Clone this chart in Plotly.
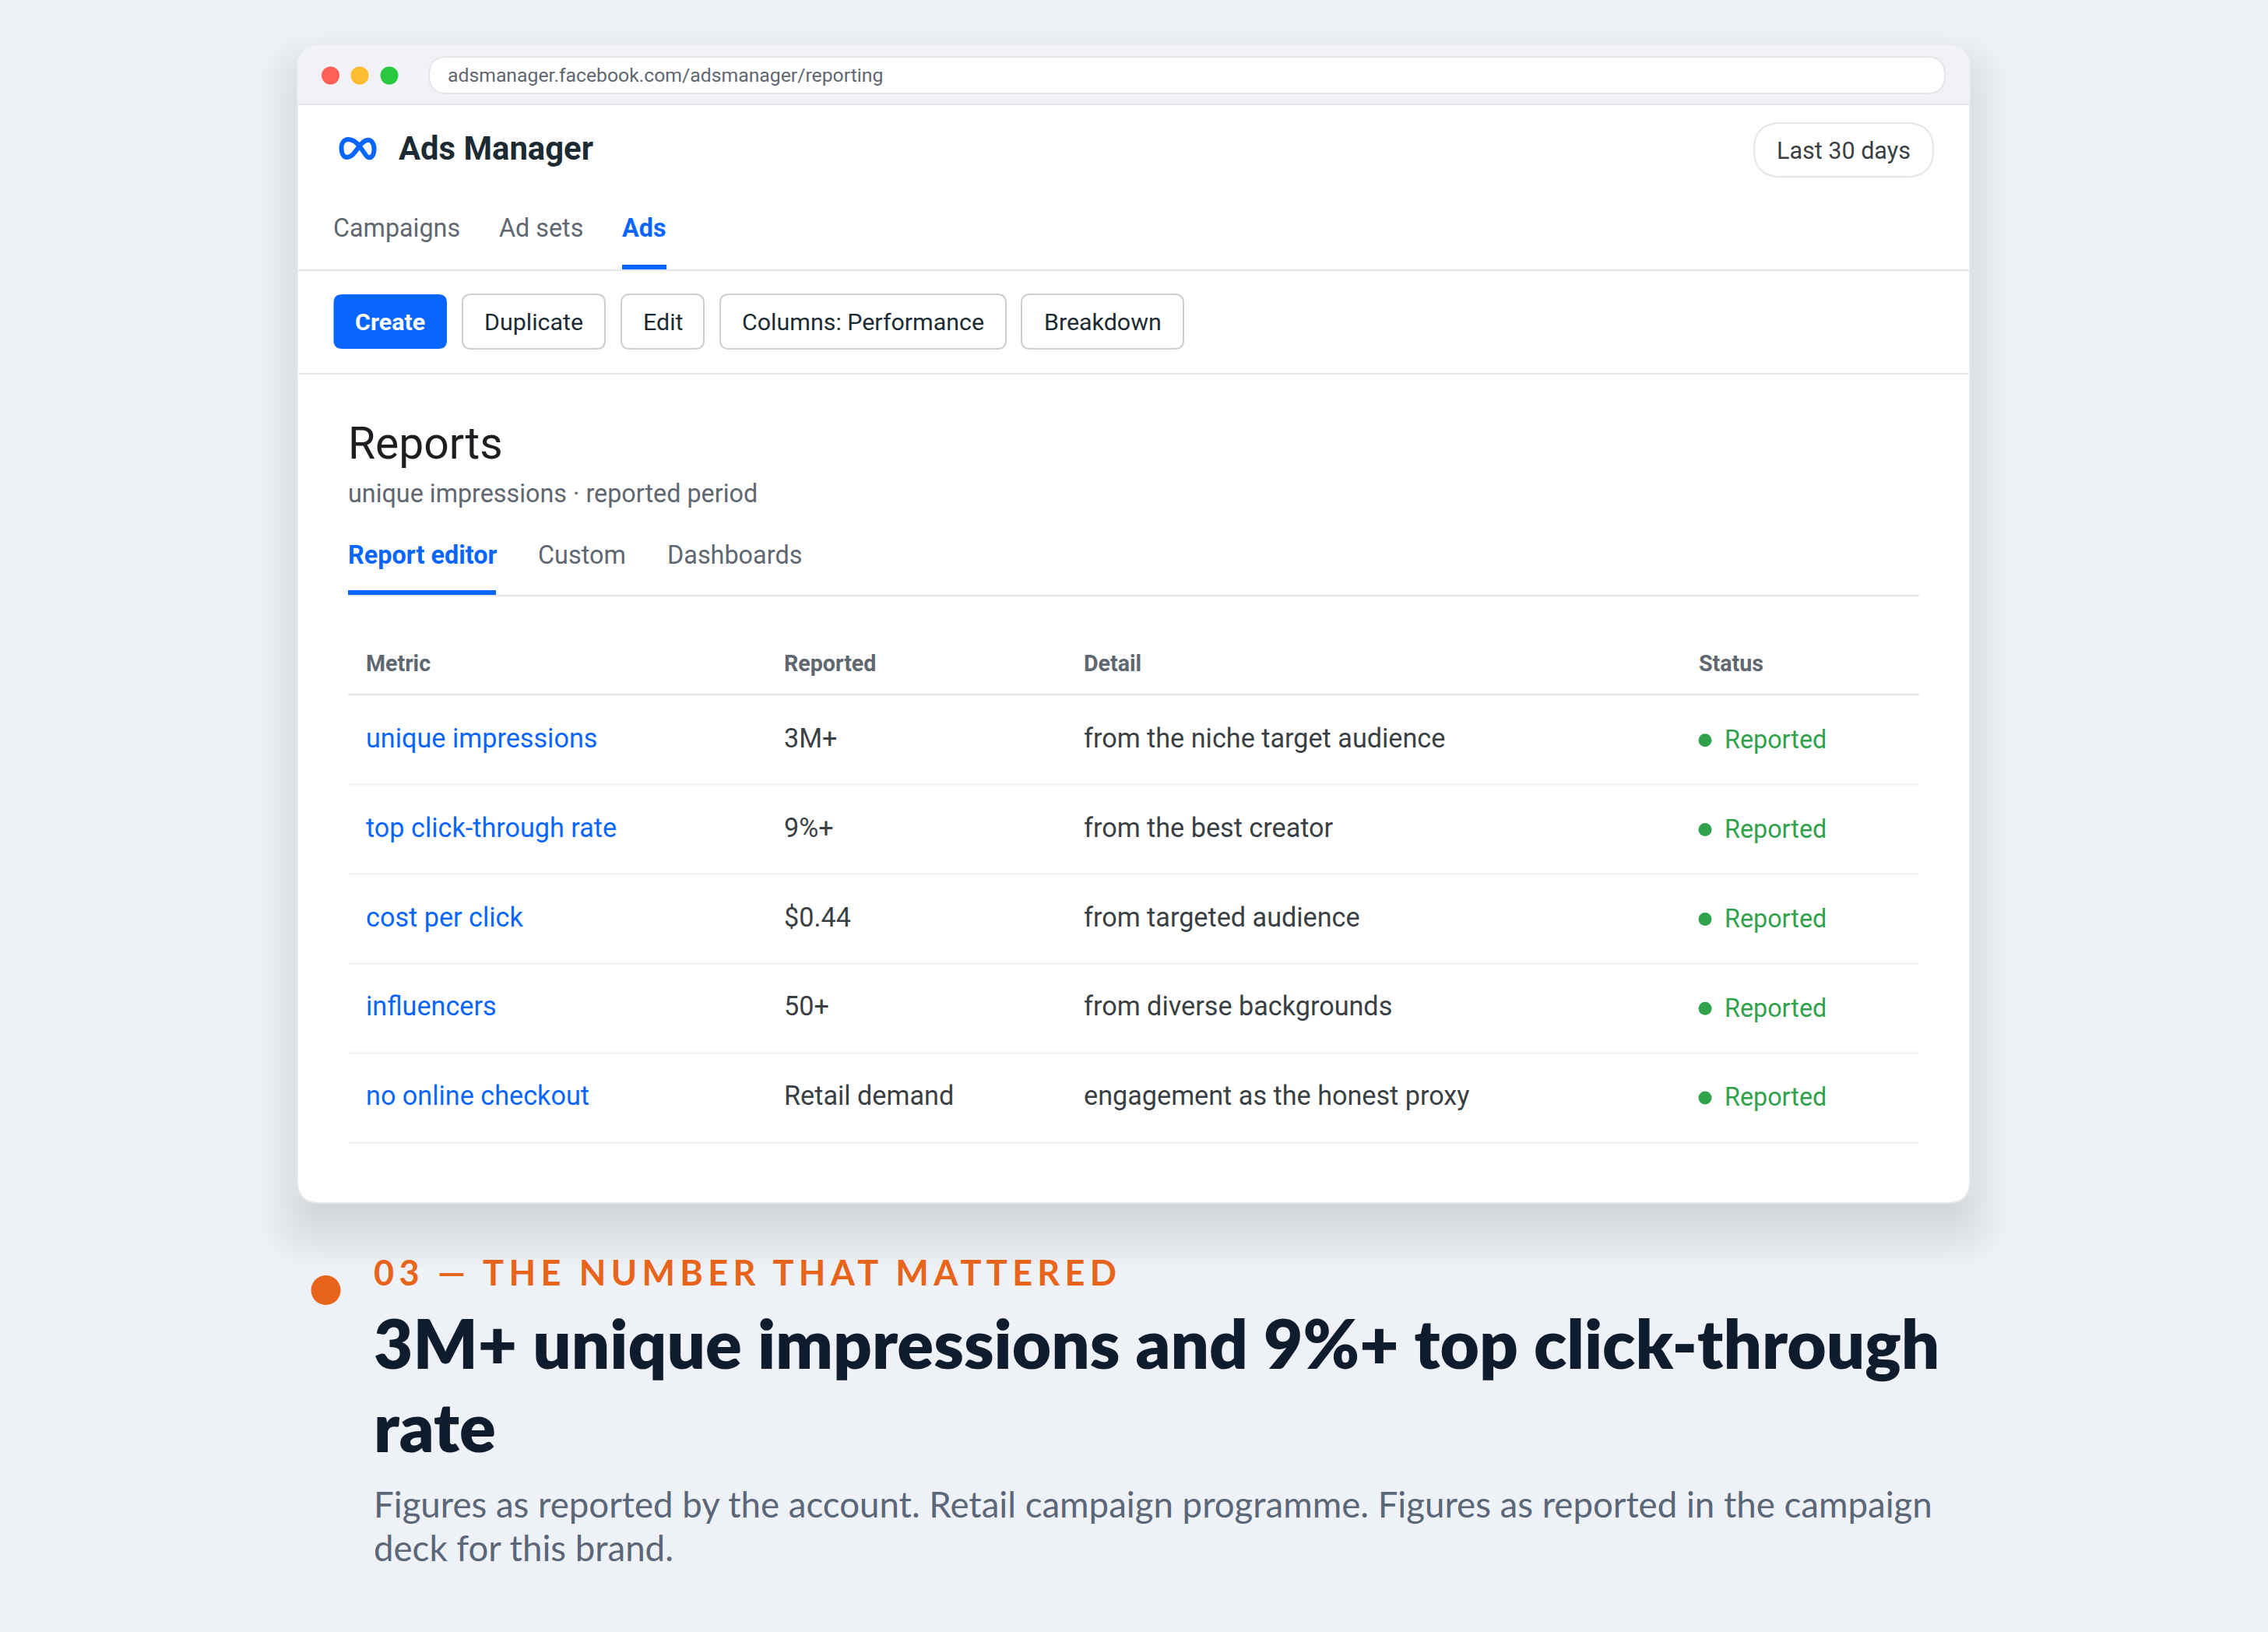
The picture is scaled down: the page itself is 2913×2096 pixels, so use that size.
import math
import plotly.graph_objects as go

W, H = 2913, 2096

# -------------------------------
# Content
# -------------------------------
url = "adsmanager.facebook.com/adsmanager/reporting"
nav_tabs = ["Campaigns", "Ad sets", "Ads"]
buttons = ["Create", "Duplicate", "Edit", "Columns: Performance", "Breakdown"]
report_tabs = ["Report editor", "Custom", "Dashboards"]
columns = ["Metric", "Reported", "Detail", "Status"]
metrics = ["unique impressions", "top click-through rate", "cost per click", "influencers", "no online checkout"]
reported = ["3M+", "9%+", "$0.44", "50+", "Retail demand"]
details = [
    "from the niche target audience",
    "from the best creator",
    "from targeted audience",
    "from diverse backgrounds",
    "engagement as the honest proxy",
]
statuses = ["Reported"] * 5
headline = ["3M+ unique impressions and 9%+ top click-through", "rate"]
body = [
    "Figures as reported by the account. Retail campaign programme. Figures as reported in the campaign",
    "deck for this brand.",
]

BLUE = "#0866ff"
GREY = "#606770"
LINE = "#e4e6eb"
ORANGE = "#e8641b"

shapes = []
annotations = []


def rrect(x0, y0, x1, y1, r, top_only=False):
    if top_only:
        return f"M{x0},{y1} L{x0},{y0+r} Q{x0},{y0} {x0+r},{y0} L{x1-r},{y0} Q{x1},{y0} {x1},{y0+r} L{x1},{y1} Z"
    return (
        f"M{x0+r},{y0} L{x1-r},{y0} Q{x1},{y0} {x1},{y0+r} L{x1},{y1-r} Q{x1},{y1} {x1-r},{y1} "
        f"L{x0+r},{y1} Q{x0},{y1} {x0},{y1-r} L{x0},{y0+r} Q{x0},{y0} {x0+r},{y0} Z"
    )


def box(x0, y0, x1, y1, r, fill, border=None, bw=2, top_only=False, opacity=1):
    shapes.append(dict(
        type="path", path=rrect(x0, y0, x1, y1, r, top_only), fillcolor=fill, opacity=opacity, layer="below",
        line=dict(color=border or fill, width=bw if border else 0),
    ))


def hline(y, x0, x1, color=LINE, w=2):
    shapes.append(dict(type="line", x0=x0, x1=x1, y0=y, y1=y, layer="below", line=dict(color=color, width=w)))


def fill_rect(x0, x1, y0, y1, color):
    shapes.append(dict(type="rect", x0=x0, x1=x1, y0=y0, y1=y1, fillcolor=color, layer="below", line=dict(width=0)))


def txt(x, base, text, size, color, weight=400, family="Roboto", anchor="left"):
    # y is the baseline, converted to the centre of the text box
    annotations.append(dict(
        x=x, y=base - 0.32 * size, text=text, showarrow=False, xanchor=anchor, yanchor="middle", align="left",
        xref="x", yref="y", borderpad=0, font=dict(family=family, size=size, color=color, weight=weight),
    ))


# -------------------------------
# Window and its soft shadow
# -------------------------------
WX0, WY0, WX1, WY1 = 382, 58, 2530, 1545
SHADOW_DY, SIGMA, SHADOW_A = 34, 40, 0.17
prev = 0.0
for d in range(100, -92, -3):
    target = SHADOW_A * 0.5 * (1 - math.erf(d / (SIGMA * math.sqrt(2))))
    step = 1 - (1 - target) / (1 - prev)
    prev = target
    box(WX0 - d, WY0 - d + SHADOW_DY, WX1 + d, WY1 + d + SHADOW_DY, max(28 + d, 4), "rgb(15,23,42)", opacity=step)

box(WX0, WY0, WX1, WY1, 28, "#ffffff", "#e6e8ee", 2)
box(WX0, WY0, WX1, 134, 28, "#f0f2f5", top_only=True)
hline(134, WX0, WX1)
for cx, col in zip([424.5, 462, 500], ["#ff5f57", "#febc2e", "#28c840"]):
    shapes.append(dict(type="circle", x0=cx - 11.5, x1=cx + 11.5, y0=85.5, y1=108.5, fillcolor=col, layer="below", line=dict(width=0)))
box(551, 73, 2498, 120, 23, "#ffffff", LINE, 2)
txt(573.5, 104, url, 24.75, GREY)

# logo
shapes.append(dict(
    type="path", layer="below",
    path="M461.7,187 C456.7,195 451.7,202 446,202 C440,202 438.5,195 438.5,190 C438.5,183 442.5,179 447.5,179 "
         "C454,179 458,183 462,188 L470,199.5 C474,205 480.5,202.5 480.5,191 C480.5,183.5 476,179 471.5,180 "
         "C467,181 464,184.5 461.7,188",
    line=dict(color=BLUE, width=6), fillcolor="rgba(0,0,0,0)",
))
txt(511, 204, "Ads Manager", 41.8, "#1c2b33", 700)

box(2253, 158, 2483, 227, 34, "#ffffff", LINE, 2)
txt(2281, 203, "Last 30 days", 30.5, "#3a3f44")

# -------------------------------
# Navigation and toolbar
# -------------------------------
for x, t in zip([427, 640, 797.5], nav_tabs):
    active = t == "Ads"
    txt(x, 303, t, 32.3, BLUE if active else GREY, 700 if active else 400)
fill_rect(799, 856, 340, 346, BLUE)
hline(347, WX0, WX1)

button_edges = [(428.5, 574), (594, 777), (798, 904), (925, 1292), (1312, 1520)]
for (x0, x1), t in zip(button_edges, buttons):
    primary = t == "Create"
    box(x0, 378, x1, 448, 11, BLUE if primary else "#ffffff", None if primary else "#ccd0d5", 2)
    txt((x0 + x1) / 2, 423, t, 30.4, "#ffffff" if primary else "#1c2b33", 700 if primary else 400, anchor="center")
hline(480, WX0, WX1)

# -------------------------------
# Report header
# -------------------------------
txt(446, 588, "Reports", 57, "#1c1e21")
txt(446, 644, "unique impressions · reported period", 32.3, GREY)
for x, t in zip([446, 690, 856], report_tabs):
    active = t == "Report editor"
    txt(x, 723, t, 32.4, BLUE if active else GREY, 700 if active else 400)
hline(765, 447, 2465)
fill_rect(447, 637, 758, 764, BLUE)

# -------------------------------
# Table
# -------------------------------
COL_X = [469, 1006, 1390.5, 2181]
ROW_H = 114.85
for x, t in zip(COL_X, columns):
    txt(x, 861, t, 28.6, GREY, 700)
hline(892, 447, 2465)
dot_x, dot_y = [], []
for i in range(len(metrics)):
    base = 958.8 + ROW_H * i
    txt(COL_X[0], base, metrics[i], 34.2, BLUE)
    txt(COL_X[1], base, reported[i], 34.2, "#3a3f44")
    txt(COL_X[2], base, details[i], 34.2, "#3a3f44")
    txt(2213.5, base + 1.5, statuses[i], 32.3, "#31a24c")
    hline(892.5 + 115 * (i + 1), 447, 2465, "#f0f2f5")
    dot_x.append(2190)
    dot_y.append(950.7 + ROW_H * i)

# -------------------------------
# Caption
# -------------------------------
shapes.append(dict(type="circle", x0=399.5, x1=437.5, y0=1638, y1=1676, fillcolor=ORANGE, layer="below", line=dict(width=0)))
txt(479, 1648.5, "03 — THE NUMBER THAT MATTERED", 45, ORANGE, 700, "Lato")
for base, t in zip([1752.5, 1859], headline):
    txt(478.5, base, t, 86.9, "#0f1c2e", 800, "Lato")
for base, t in zip([1946, 2002], body):
    txt(478.5, base, t, 45.6, "#5b6678", 400, "Lato")

fig = go.Figure(go.Scatter(
    x=dot_x, y=dot_y, mode="markers", marker=dict(size=17, color="#31a24c"), hoverinfo="skip",
))
fig.update_layout(
    width=W, height=H, margin=dict(l=0, r=0, t=0, b=0), autosize=False, showlegend=False,
    paper_bgcolor="#eef1f6", plot_bgcolor="rgba(0,0,0,0)",
    xaxis=dict(range=[0, W], visible=False, fixedrange=True),
    yaxis=dict(range=[H, 0], visible=False, fixedrange=True),
    shapes=shapes, annotations=annotations,
)

# letter spacing on the eyebrow and no page margin
post = """
document.body.style.margin = '0';
document.querySelectorAll('.annotation-text').forEach(function (t) {
  if (t.textContent.indexOf('03 ') === 0) { t.style.letterSpacing = '6.3px'; }
});
"""
fig.write_html("out.html", post_script=post, config=dict(displayModeBar=False))
